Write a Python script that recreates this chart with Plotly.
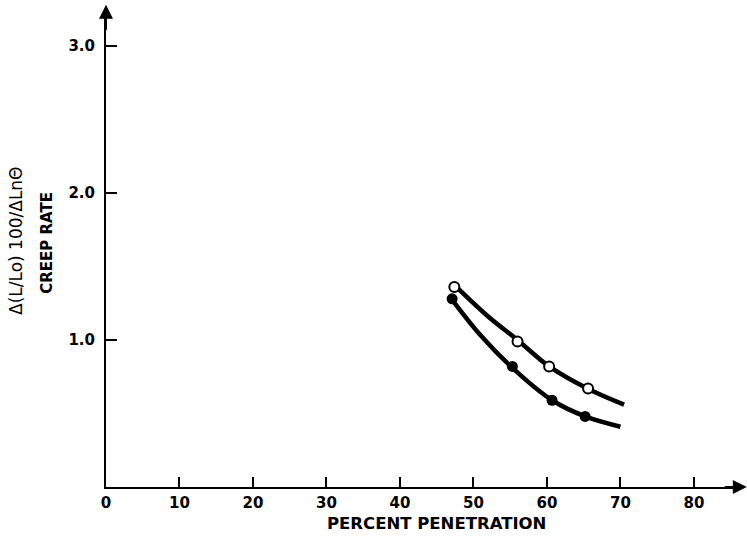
import plotly.graph_objects as go

# Data
open_x = [47.4, 56.0, 60.3, 65.6]
open_y = [1.36, 0.99, 0.82, 0.67]
filled_x = [47.1, 55.3, 60.7, 65.2]
filled_y = [1.28, 0.82, 0.59, 0.48]
# fitted curves
open_curve_x = [47.5, 52.0, 56.0, 60.3, 65.5, 70.5]
open_curve_y = [1.37, 1.16, 1.00, 0.82, 0.67, 0.56]
filled_curve_x = [47.0, 51.0, 55.3, 60.7, 65.2, 70.0]
filled_curve_y = [1.28, 1.03, 0.81, 0.59, 0.48, 0.41]

x_ticks = [0, 10, 20, 30, 40, 50, 60, 70, 80]
x_ticklabels = ["0", "10", "20", "30", "40", "50", "60", "70", "80"]
y_ticks = [1, 2, 3]
y_ticklabels = ["1.0", "2.0", "3.0"]

FONT = "DejaVu Sans, Arial, sans-serif"

fig = go.Figure()
fig.add_trace(go.Scatter(x=open_curve_x, y=open_curve_y, mode="lines",
                         line=dict(color="black", width=4.5, shape="spline"),
                         hoverinfo="skip", showlegend=False))
fig.add_trace(go.Scatter(x=filled_curve_x, y=filled_curve_y, mode="lines",
                         line=dict(color="black", width=4.5, shape="spline"),
                         hoverinfo="skip", showlegend=False))
fig.add_trace(go.Scatter(x=open_x, y=open_y, mode="markers",
                         marker=dict(symbol="circle", size=10, color="white",
                                     line=dict(color="black", width=2)),
                         showlegend=False))
fig.add_trace(go.Scatter(x=filled_x, y=filled_y, mode="markers",
                         marker=dict(symbol="circle", size=11, color="black"),
                         showlegend=False))

fig.update_layout(
    width=747, height=544,
    margin=dict(l=106, r=9, t=13, b=57),
    paper_bgcolor="white", plot_bgcolor="white",
    showlegend=False,
    font=dict(family=FONT, color="black"),
    xaxis=dict(range=[0, 86], showgrid=False, zeroline=False,
               showline=True, linecolor="black", linewidth=2,
               ticks="inside", ticklen=10, tickwidth=2, tickcolor="black",
               tickvals=x_ticks, ticktext=x_ticklabels,
               tickfont=dict(family=FONT, size=15, color="black", weight="bold"),
               ticklabelstandoff=1),
    yaxis=dict(range=[0, 3.224], showgrid=False, zeroline=False,
               showline=True, linecolor="black", linewidth=2,
               ticks="inside", ticklen=11, tickwidth=2, tickcolor="black",
               tickvals=y_ticks, ticktext=y_ticklabels,
               tickfont=dict(family=FONT, size=15, color="black", weight="bold"),
               ticklabelstandoff=6),
)

# Arrowheads at ends of axes
fig.add_annotation(x=87.2, y=0, ax=84, ay=0, xref="x", yref="y", axref="x", ayref="y",
                   showarrow=True, arrowhead=2, arrowsize=1.4, arrowwidth=2,
                   arrowcolor="black", text="")
fig.add_annotation(x=0, y=3.28, ax=0, ay=3.1, xref="x", yref="y", axref="x", ayref="y",
                   showarrow=True, arrowhead=2, arrowsize=1.4, arrowwidth=2,
                   arrowcolor="black", text="")

# Axis titles
fig.add_annotation(x=0.523, y=-0.076, xref="paper", yref="paper", showarrow=False,
                   text="PERCENT PENETRATION", yanchor="middle", xanchor="center",
                   font=dict(family=FONT, size=16.5, color="black", weight="bold"))
fig.add_annotation(x=-0.1424, y=0.519, xref="paper", yref="paper", showarrow=False,
                   text="Δ(L/Lo) 100/ΔLnΘ", textangle=-90,
                   xanchor="center", yanchor="middle",
                   font=dict(family=FONT, size=17, color="black"))
fig.add_annotation(x=-0.0934, y=0.515, xref="paper", yref="paper", showarrow=False,
                   text="CREEP RATE", textangle=-90,
                   xanchor="center", yanchor="middle",
                   font=dict(family=FONT, size=15, color="black", weight="bold"))

fig.write_html("out.html")
